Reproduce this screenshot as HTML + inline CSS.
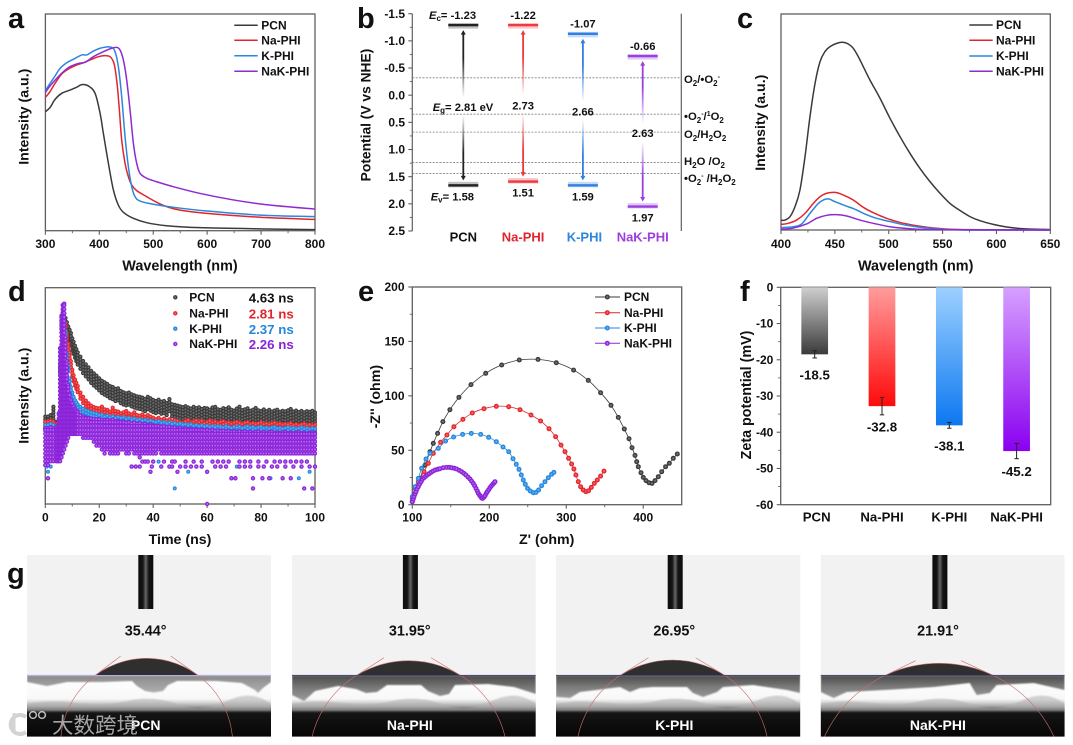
<!DOCTYPE html>
<html lang="en">
<head>
<meta charset="utf-8">
<title>PCN and PHI characterisation figure</title>
<style>
html,body{margin:0;padding:0;background:#fff;width:1073px;height:745px;overflow:hidden}
svg{display:block;font-family:"Liberation Sans","Noto Sans CJK SC",sans-serif;font-weight:bold;fill:#111}
</style>
</head>
<body>
<svg id="fig" xmlns="http://www.w3.org/2000/svg" width="1073" height="745" viewBox="0 0 1073 745">
  <defs id="defs">
    <filter id="soft" x="-5%" y="-5%" width="110%" height="110%"><feGaussianBlur stdDeviation="0.7"/></filter>
  </defs>
  <g id="panel-a"></g>
  <g id="panel-b">
    <text x="684" y="83" font-size="11.3">O<tspan dy="3" font-size="8">2</tspan><tspan dy="-3">/•O</tspan><tspan dy="3" font-size="8">2</tspan><tspan dy="-7" font-size="7">-</tspan></text>
    <text x="684" y="120" font-size="11.3">•O<tspan dy="3" font-size="8">2</tspan><tspan dy="-7" font-size="7">-</tspan><tspan dy="4">/</tspan><tspan dy="-4" font-size="7">1</tspan><tspan dy="4">O</tspan><tspan dy="3" font-size="8">2</tspan></text>
    <text x="684" y="138" font-size="11.3">O<tspan dy="3" font-size="8">2</tspan><tspan dy="-3">/H</tspan><tspan dy="3" font-size="8">2</tspan><tspan dy="-3">O</tspan><tspan dy="3" font-size="8">2</tspan></text>
    <text x="684" y="165" font-size="11.3">H<tspan dy="3" font-size="8">2</tspan><tspan dy="-3">O /O</tspan><tspan dy="3" font-size="8">2</tspan></text>
    <text x="684" y="182" font-size="11.3">•O<tspan dy="3" font-size="8">2</tspan><tspan dy="-7" font-size="7">-</tspan><tspan dy="4"> /H</tspan><tspan dy="3" font-size="8">2</tspan><tspan dy="-3">O</tspan><tspan dy="3" font-size="8">2</tspan></text>
  </g>
  <g id="panel-c"></g>
  <g id="panel-d"></g>
  <g id="panel-e"></g>
  <g id="panel-f"></g>
  <g id="panel-g"></g>
  <g font-size="29" style="fill:#111">
    <text x="8" y="28">a</text>
    <text x="357" y="28">b</text>
    <text x="737" y="28">c</text>
    <text x="8" y="301">d</text>
    <text x="358" y="301">e</text>
    <text x="740" y="301">f</text>
    <text x="7" y="583">g</text>
  </g>
  <g opacity="0.9">
    <path d="M26 717 A9.5 9.5 0 1 0 26 732" fill="none" stroke="#cfcfcf" stroke-width="4"/>
    <path d="M14 713 V733" fill="none" stroke="#cfcfcf" stroke-width="3"/>
    <circle cx="33" cy="715" r="3.4" fill="none" stroke="#cfcfcf" stroke-width="1.5"/>
    <circle cx="42" cy="715" r="3.4" fill="none" stroke="#cfcfcf" stroke-width="1.5"/>
    <text x="52" y="733" font-size="21.5" font-weight="normal" style="fill:#b5b5b5;font-family:'Liberation Sans','Noto Sans CJK SC',sans-serif">大数跨境</text>
  </g>
</svg>
<script>
/* ---------- shared labels ---------- */
const materials = ['PCN', 'Na-PHI', 'K-PHI', 'NaK-PHI'];
const lineColors = ['#3a3a3a', '#e0262c', '#2b86dc', '#8e2bd0'];

/* ---------- panel a: absorbance ---------- */
const aTicks = [300, 400, 500, 600, 700, 800];
const aMinorTicks = [350, 450, 550, 650, 750];
const aPcnX = [300,308.7,317.9,330.3,345.7,358.1,367.4,379.7,392.1,401.4,407.5,416.8,426.1,435.3,444.6,463.2,487.9,525,586.8,710.4,800];
const aPcnY = [54.9,56.9,60.6,63.4,64.9,66.2,67.4,66.8,63.4,54.2,44.9,31.1,18.8,11.8,8.5,5.7,3.7,2.3,1.4,0.8,0.5];
const aNaX = [300,308.7,317.9,330.3,342.6,358.1,370.5,385.9,398.3,410.6,419.9,426.1,429.2,433.5,437.2,441.5,447.7,453.9,460.1,469.3,487.9,506.4,525,549.7,599.1,698,800];
const aNaY = [61.5,64.2,68,72.3,74.6,76.5,77.5,79.1,80.3,80.8,80.3,78,74.9,66.5,55.7,41.8,31.1,24.9,21.1,18.5,15.7,13.1,11.1,9.5,8,6.2,5.2];
const aKX = [300,308.7,317.9,327.2,339.6,351.9,367.4,376.6,389,401.4,413.7,423,429.2,435.3,441.5,447.7,453.9,460.1,466.2,475.5,500.2,537.3,599.1,698,800];
const aKY = [64.6,68,71.4,74.9,77.5,79.1,81.1,81.1,82.9,84.2,84.8,84.6,82.6,75.7,61.8,43.4,29.5,20.3,15.7,13.7,12.2,10.8,9.1,7.2,6.5];
const aNaKX = [300,308.7,321,333.4,345.7,361.2,373.5,389,407.5,423,432.3,438.4,444.6,450.8,457,463.2,469.3,475.5,487.9,506.4,537.3,586.8,648.6,710.4,800];
const aNaKY = [63.8,66.8,70.3,73.4,75.7,77.2,77.7,80.3,82.6,84.2,84.6,83.4,78.8,69.5,55.7,40.3,31.1,26.5,24.2,22.6,20.3,17.2,14.2,12,10];

/* ---------- panel b: band diagram ---------- */
const bTicks = [-1.5, -1, -0.5, 0, 0.5, 1, 1.5, 2, 2.5];
const bMinorTicks = [-1.25, -0.75, -0.25, 0.25, 0.75, 1.25, 1.75, 2.25];
const bConduction = [-1.29, -1.29, -1.13, -0.72];
const bValence = [1.66, 1.59, 1.66, 2.05];
const bConductionLabels = ['-1.23', '-1.22', '-1.07', '-0.66'];
const bValenceLabels = ['1.58', '1.51', '1.59', '1.97'];
const bGapLabels = ['2.81 eV', '2.73', '2.66', '2.63'];
const bRedoxLevels = [-0.32, 0.35, 0.68, 1.24, 1.44];

/* ---------- panel c: emission ---------- */
const cTicks = [400, 450, 500, 550, 600, 650];
const cMinorTicks = [425, 475, 525, 575, 625];
const cPcnX = [400,403.7,408.4,413,417.6,422.3,426.9,431.6,436.2,440.8,445.5,451.7,457.2,462.5,467.1,471.8,476.4,482.6,491.9,501.2,510.5,519.7,529,538.3,547.6,556.9,566.2,575.4,584.7,597.1,609.5,625,650];
const cPcnY = [4.5,4.6,6.2,10.8,18.5,34,52.5,67.9,77.9,82.6,84.9,86.4,86.9,86.1,84.1,80.2,75.6,69.4,61,51.7,43.2,35.5,28.5,22.4,17,12.3,9,6.2,4.3,2.6,1.4,0.6,0.2];
const cNaX = [400,406.8,414.5,422.3,430,436.2,442.4,450.1,457.9,467.1,476.4,485.7,498,510.5,526,544.5,569.3,650];
const cNaY = [2.6,3.1,4.6,7.7,12.3,15.4,17,17.4,16.2,13.9,10.5,8,5.4,3.5,2,0.8,0.2,0];
const cKX = [400,411.4,419.2,426.9,434.6,439.3,444.2,450.1,459.4,468.7,478,488.8,501.2,516.6,538.3,569.3,650];
const cKY = [1.1,1.5,2.8,7.7,12.3,13.9,14.4,13.1,11.3,9.6,7.4,5.4,3.9,2.2,0.8,0,0];
const cNaKX = [400,411.4,423.8,433.1,442.4,451.1,461,473.3,485.7,501.2,519.7,544.5,650];
const cNaKY = [0.3,0.9,2.8,5.4,6.8,7.1,6.5,4.6,3.1,1.5,0.6,0.2,0];

/* ---------- panel d: fluorescence decay ---------- */
const dTicks = [0, 20, 40, 60, 80, 100];
const dMinorTicks = [10, 30, 50, 70, 90];
const dLifetimes = ['4.63 ns', '2.81 ns', '2.37 ns', '2.26 ns'];
const dTime = [0,1,2,3,4,4.5,5,5.5,6,6.5,7,7.5,8,8.5,9,9.5,10,10.5,11,11.5,12,13,14,15,16,17,18,19,20,21,22,23,24,25,26,27,28,29,30,31,32,33,34,35,36,37,38,39,40,41,42,43,44,45,46,47,48,49,50,51,52,53,54,55,56,57,58,59,60,61,62,63,64,65,66,67,68,69,70,71,72,73,74,75,76,77,78,79,80,81,82,83,84,85,86,87,88,89,90,91,92,93,94,95,96,97,98,99,100];
const dPcn = [40.4,40.4,41.1,45,38,38,38,65,85,90,88,86,84,82,80.5,79,76.6,75,73.2,71.6,70.1,
 68.1,66.1,64.6,63.2,61.6,60.4,59.3,58.1,56.9,56.2,55.5,54.5,54.1,53.2,53.5,52.2,51.6,51.2,51.5,50.7,50.2,49.8,49.5,49.2,48.5,49.5,48.8,48.1,47.6,48.2,47.3,47.6,46.7,48.5,46.1,45.8,45.5,45.1,
 44.8,45.2,44.6,44.1,44.9,44.3,44.7,43.9,44.4,44.2,43.6,44.6,44.9,43.8,43.5,44.3,43.9,44.7,43.6,43.2,44.1,45,43.4,43.8,44.2,43.1,43.6,44.4,43.3,43,43.7,42.9,43.5,42.7,43.2,43.6,42.6,43.1,42.8,43.3,43.9,42.7,43.2,42.5,43,42.4,42.9,42.6,43.1,42.3];
const dNa = [38,38,38.5,38,37,37,38,65,85,90,85,83,79,74,70,66,62,59.5,57.5,56,54.5,
 51.5,49.5,47.8,46.5,45.5,44.8,44.4,44.2,45,43.8,43.5,42.7,44.5,43,42.7,41.9,42.4,43,41.9,41.4,42.4,41.1,40.8,41.4,40.4,41.1,40.4,39.9,
 39.2,39.8,38.9,39.5,38.6,39.1,38.2,38.8,38.4,37.9,37.5,38.3,38.8,37.6,38.1,38.6,37.8,38.4,37.3,37.9,38.5,37.7,38.1,37.4,37.9,38.3,37.2,37.7,37.1,37.6,38,37.4,36.9,37.5,37.8,37,37.4,36.8,37.3,37.7,36.9,37.2,36.7,37.2,37.6,36.8,37.1,36.6,37,36.7,37.3,36.5,36.9,36.4,36.8,37.1,36.3,36.7,36.2,36.6];
const dK = [36.5,36.5,37,36.5,36,36,38,65,85,90,84,80,70,64,58,54,51.5,49.5,48,47,46,
 45,44,43.3,42.8,42.3,42,41.7,41.1,41.3,40.4,40.8,39.9,40.5,39.6,40.2,39.7,40,39.3,39.8,38.9,39.5,38.7,39.2,38.5,38.9,38.2,38.6,38.1,
 37.8,38.3,37.5,37.9,37.2,37.7,37,37.4,36.9,37.2,36.6,36.9,36.3,36.8,36.1,36.5,35.9,36.4,35.8,36.2,35.6,36,35.4,36,35.7,35.3,35.9,35.5,35.1,35.7,35.3,35.8,35,35.4,35.9,35.2,35.6,34.9,35.4,35.7,35,35.3,34.8,35.3,35.6,34.9,35.2,34.7,35.1,35.5,34.8,35.2,34.6,35,35.4,34.7,35.1,34.5,35,34.8];
const dNaK = [35,35,35.5,35,35,36,42,72,87,92,92.6,77,66,55,51,48,46.5,45,44,43,42.5,
 41,40.5,40,39.8,39.5,39.3,39.2,39.2,38.9,38.7,38.9,38.6,38.9,38.2,38.5,37.9,38.1,37.6,37.9,37.3,37.6,37,37.3,36.8,37,36.5,36.7,36.3,
 36,36.2,35.7,35.9,35.4,35.7,35.2,35.4,34.9,35.2,34.7,35,34.5,34.8,34.3,34.6,34.2,34.5,34,34.3,33.9,34.2,33.7,34,33.6,33.9,33.5,33.8,33.4,33.7,33.3,33.6,33.2,33.5,33.1,33.4,33,33.3,33.5,33,33.2,32.9,33.2,33.4,32.9,33.1,32.8,33.1,33.3,32.8,33,32.7,33,33.2,32.7,32.9,32.6,32.9,33.1,32.8];
const dNaKLow = [17,18,19.5,19,19,19,19,19,20,22,24,26,28,30,31,31,31,31,31,31,31,
 31,30.5,30,29.5,29,28,26.5,25.7,24.2,23.4,23.6,22.7,22.9,21.9,22.4,23.5,24.1,23,22.6,23.8,22.5,23.1,21.6,22.2,
 21.7,21.7,22.4,21.7,21.7,23.5,21.7,21.7,21.7,22.4,21.7,21.7,21.7,23.3,21.7,21.7,21.7,22.5,21.7,21.7,21.7,21.7,21.7,23,21.7,21.7,21.7,21.7,22.4,21.7,21.7,21.7,21.7,21.7,23,21.7,21.7,21.7,21.7,21.7,22.4,21.7,21.7,21.7,21.7,21.7,21.7,23,21.7,21.7,21.7,21.7,21.7,21.7,22.4,21.7,21.7,21.7,21.7,21.7,21.7,21.7,21.7,21.7];
const dSpread = [6, 4, 4];
const dKOutlierT = [0.5,1,2,42,48,53,71,83.5,94,98];
const dKOutlierV = [17.3,14.9,17.3,19.6,7.2,14.9,17.3,11.9,11.9,14.9];
const dNaKOutlierT = [1,32,33.5,35,39.5,39,46,49,60,69,70.5,77,77,80.5,83,88,91,96,99,60,36,37,38,40,44,47,48,52,55,58,62,64,66,68,72,74,76,79,82,85,87,89,91,93,95,97,43,47,50,52,54,56,58,63,65,67,72,74,76,79,81,84,86,89,92,95,98,100];
const dNaKOutlierV = [11.9,17.3,17.3,17.3,17.3,14.9,17.3,14.9,14.9,11.9,11.9,11.9,7.2,11.9,11.9,11.9,11.9,7.2,7.2,0,19.6,19.6,19.6,19.6,19.6,19.6,19.6,19.6,19.6,19.6,19.6,19.6,19.6,19.6,19.6,19.6,19.6,19.6,19.6,19.6,19.6,19.6,19.6,19.6,19.6,19.6,17.3,17.3,17.3,17.3,17.3,17.3,17.3,17.3,17.3,17.3,17.3,17.3,17.3,17.3,17.3,17.3,17.3,17.3,17.3,17.3,17.3,17.3];

/* ---------- panel e: Nyquist ---------- */
const eXTicks = [100, 200, 300, 400];
const eXMinorTicks = [150, 250, 350];
const eYTicks = [0, 50, 100, 150, 200];
const eYMinorTicks = [25, 75, 125, 175];
const ePcnX = [100,102.2,105.6,110,116.5,123,127.3,132.9,139.8,148.9,160.6,176.2,195.3,216.1,239,263.3,287.1,309.6,328.7,344.7,358.1,367.6,375.4,381.5,385.4,389.3,391.5,393.6,397.1,400.1,403.6,407.5,411.4,415.3,419.6,424,429.1,433.9,439.1,444.3];
const ePcnY = [2.8,8.9,15,24.2,36.4,48.7,56.4,65.5,76.3,87.3,98.6,110.3,120.7,128.3,132.9,133.5,130.5,123.7,114.2,102.9,91.3,80.2,69.5,60.6,52.4,45.3,39.5,34.9,29.4,25.1,22.1,20.2,19.6,22.1,25.7,30.3,34.9,38,42.6,46.6];
const eNaX = [100,103.5,107.8,115.2,120.8,127.3,136.8,145,154.1,165.8,178,193.1,209.1,225.2,239.9,254.2,266.7,277.6,286.2,293.2,298.4,303.1,307,310,312.6,315.7,318.7,322.2,325.6,329.1,332.6,336.5,340.4,344.7,349];
const eNaY = [5.8,15,21.1,30.3,38,47.2,57.3,64,71.7,78.4,84.2,88.2,90.4,90,87.3,82.4,76.9,69.8,62.5,54.8,48.7,42.6,37.4,32.8,27.3,21.1,16.5,13.5,11.9,12.9,15.9,19.6,22.7,26.3,30.9];
const eKX = [100,103.5,107.8,112.1,117.8,123,133.8,143.3,153.7,165.4,176.7,188.8,199.2,209.1,217.8,225.2,230.8,235.1,238.6,241.6,244.2,246.8,249.8,253.3,257.2,260.7,264.1,268,272.4,276.7,281,284];
const eKY = [7.4,16.5,24.2,33.4,42,47.2,51.8,58.5,62.2,64.6,65.5,64.6,61.9,57.9,53,48.7,42.3,37.1,32.5,27.3,22.7,18.7,15,12.6,11,11.3,13.5,17.5,21.1,24.8,27.9,29.7];
const eNaKX = [100,101.3,102.2,103.5,104.8,106.1,107.8,109.5,111.3,113,115.2,117.3,119.5,121.7,124.3,126.9,129.9,133,135.9,140.3,144.6,148.1,151.1,154.6,157.6,161.1,164.1,167.1,169.7,172.3,174.9,177.1,179.3,181,182.7,184.5,185.8,187.5,188.8,190.1,191.4,193.1,194.4,196.1,197.4,199.2,200.9,202.6,204.4,206.1,207.4];
const eNaKY = [2.8,5.2,7.4,9.8,11.9,14.4,16.5,19,21.1,23.3,24.8,26,27.3,28.5,29.7,30.9,31.9,32.5,33.1,34,34.3,34.3,34,33.4,32.8,31.5,30.3,28.8,27.3,25.4,23.6,21.7,19.6,17.5,15,12.6,10.4,8.6,7.4,6.1,5.8,7,8.3,10.4,11.9,13.8,15.6,17.2,18.7,19.9,21.1];

/* ---------- panel f: zeta potential ---------- */
const fTicks = [0, -10, -20, -30, -40, -50, -60];
const fMinorTicks = [-5, -15, -25, -35, -45, -55];
const fValues = [-18.5, -32.8, -38.1, -45.2];
const fErrors = [1, 2.4, 0.8, 2.1];
const fValueLabels = ['-18.5', '-32.8', '-38.1', '-45.2'];
const fTopColors = ['#cfcfcf', '#ff9c9c', '#9dd0ff', '#d6a0ff'];
const fBottomColors = ['#3a3a3a', '#ff0a0a', '#0c78f0', '#8a00f0'];

/* ---------- panel g: contact angle ---------- */
const gAngles = ['35.44°', '31.95°', '26.95°', '21.91°'];

/* ---------- helpers ---------- */
const NS = 'http://www.w3.org/2000/svg';
function add(parent, tag, attrs, name) {
  const el = document.createElementNS(NS, tag);
  for (const k in attrs) el.setAttribute(k, attrs[k]);
  
  
  parent.appendChild(el);
  return el;
}
function label(parent, x, cy, str, size, name, anchor, color) {
  const el = add(parent, 'text', {x: x, y: cy + size * 0.35, 'font-size': size, 'text-anchor': anchor || 'middle', style: 'fill:' + (color || '#111')}, name);
  el.textContent = str;
  return el;
}
function vLabel(parent, cx, cy, str, size, name) {
  const el = add(parent, 'text', {x: 0, y: 0, 'font-size': size, 'text-anchor': 'middle', transform: 'translate(' + (cx + size * 0.35) + ' ' + cy + ') rotate(-90)'}, name);
  el.textContent = str;
  return el;
}
function scale(d0, d1, r0, r1) { return v => r0 + (v - d0) * (r1 - r0) / (d1 - d0); }
function smooth(xs, ys) {
  const p = xs.map((x, i) => [x, ys[i]]);
  let d = 'M' + p[0][0].toFixed(2) + ' ' + p[0][1].toFixed(2);
  for (let i = 0; i < p.length - 1; i++) {
    const a = p[Math.max(i - 1, 0)], b = p[i], c = p[i + 1], e = p[Math.min(i + 2, p.length - 1)];
    d += 'C' + (b[0] + (c[0] - a[0]) / 6).toFixed(2) + ' ' + (b[1] + (c[1] - a[1]) / 6).toFixed(2) + ' ' +
         (c[0] - (e[0] - b[0]) / 6).toFixed(2) + ' ' + (c[1] - (e[1] - b[1]) / 6).toFixed(2) + ' ' +
         c[0].toFixed(2) + ' ' + c[1].toFixed(2);
  }
  return d;
}
const axisColor = '#5f5f5f';
function frame(g, x0, y0, x1, y1) {
  add(g, 'rect', {x: x0, y: y0, width: x1 - x0, height: y1 - y0, fill: 'none', stroke: axisColor, 'stroke-width': 1.3}, 'plot-frame');
}
function xAxis(g, sx, ticks, minor, y, labelY) {
  ticks.forEach(t => {
    add(g, 'line', {x1: sx(t), x2: sx(t), y1: y, y2: y + 4, stroke: axisColor, 'stroke-width': 1.1}, 'x-tick');
    label(g, sx(t), labelY, String(t), 12, 'x-tick-label');
  });
  minor.forEach(t => {
    add(g, 'line', {x1: sx(t), x2: sx(t), y1: y, y2: y + 2.5, stroke: axisColor, 'stroke-width': 0.9}, 'x-minor-tick');
  });
}
function yAxis(g, sy, ticks, minor, x, labelX, fmt) {
  ticks.forEach(t => {
    add(g, 'line', {x1: x - 4, x2: x, y1: sy(t), y2: sy(t), stroke: axisColor, 'stroke-width': 1.1}, 'y-tick');
    label(g, labelX, sy(t), fmt ? fmt(t) : String(t), 12, 'y-tick-label', 'end');
  });
  minor.forEach(t => {
    add(g, 'line', {x1: x - 2.5, x2: x, y1: sy(t), y2: sy(t), stroke: axisColor, 'stroke-width': 0.9}, 'y-minor-tick');
  });
}
const defs = document.getElementById('defs');
function vGrad(id, stops, horizontal) {
  const gr = add(defs, 'linearGradient', {id: id, x1: 0, y1: 0, x2: horizontal ? 1 : 0, y2: horizontal ? 0 : 1}, 'gradient');
  stops.forEach(s => add(gr, 'stop', {offset: s[0], 'stop-color': s[1], 'stop-opacity': s[2] === undefined ? 1 : s[2]}, 'gradient-stop'));
}
const ballLight = ['#8c8c8c', '#ff7d7d', '#7fc2ff', '#cf8dff'];
const ballCore = ['#3a3a3a', '#e3262c', '#2487dc', '#8a22d8'];
ballCore.forEach((c, i) => {
  const gr = add(defs, 'radialGradient', {id: 'ball' + i, cx: 0.5, cy: 0.5, r: 0.5}, 'ball-gradient');
  add(gr, 'stop', {offset: 0, 'stop-color': ballLight[i]}, 'gradient-stop');
  add(gr, 'stop', {offset: 0.65, 'stop-color': c}, 'gradient-stop');
  add(gr, 'stop', {offset: 1, 'stop-color': c}, 'gradient-stop');
});
function lineLegend(g, x0, x1, textX, ys) {
  materials.forEach((m, i) => {
    add(g, 'line', {x1: x0, x2: x1, y1: ys[i], y2: ys[i], stroke: lineColors[i], 'stroke-width': 1.5}, 'legend-line-' + m.toLowerCase());
    label(g, textX, ys[i], m, 12, 'legend-label-' + m.toLowerCase(), 'start');
  });
}

/* ---------- panel a ---------- */
(function () {
  const g = document.getElementById('panel-a');
  const sx = scale(300, 800, 45.4, 315), sy = scale(0, 100, 230.7, 14);
  frame(g, 45.4, 14, 315, 230.7);
  xAxis(g, sx, aTicks, aMinorTicks, 230.7, 244);
  const sets = [[aPcnX, aPcnY], [aNaX, aNaY], [aKX, aKY], [aNaKX, aNaKY]];
  sets.forEach((s, i) => {
    add(g, 'path', {d: smooth(s[0].map(sx), s[1].map(sy)), fill: 'none', stroke: lineColors[i], 'stroke-width': 1.5, 'stroke-linejoin': 'round'}, 'series-' + materials[i].toLowerCase());
  });
  lineLegend(g, 234.3, 257.7, 261.3, [25.3, 40.3, 55.7, 71.3]);
  label(g, 180, 265.7, 'Wavelength (nm)', 14.4, 'x-axis-title');
  vLabel(g, 23.3, 116.7, 'Intensity (a.u.)', 14.2, 'y-axis-title');
})();

/* ---------- panel b ---------- */
(function () {
  const g = document.getElementById('panel-b');
  const sy = scale(-1.5, 2.5, 13.7, 231);
  const cx = i => 463.3 + 59.8 * i;
  add(g, 'line', {x1: 412.3, x2: 412.3, y1: 13.7, y2: 231, stroke: axisColor, 'stroke-width': 1.2}, 'y-axis-line');
  add(g, 'line', {x1: 681.3, x2: 681.3, y1: 13.7, y2: 231, stroke: axisColor, 'stroke-width': 1.2}, 'right-divider');
  yAxis(g, sy, bTicks, bMinorTicks, 412.3, 405, t => t.toFixed(1));
  bRedoxLevels.forEach(v => {
    add(g, 'line', {x1: 412.3, x2: 681, y1: sy(v), y2: sy(v), stroke: '#808080', 'stroke-width': 0.8, 'stroke-dasharray': '2 1.4'}, 'redox-level');
  });
  const colors = ['#222222', '#ee3a3f', '#2f80e0', '#9a3fe0'];
  materials.forEach((m, i) => {
    const x = cx(i), top = sy(bConduction[i]), bot = sy(bValence[i]);
    const mid = (top + bot) / 2 + 2;
    const idU = 'arrowUp' + i, idD = 'arrowDown' + i;
    vGrad(idU, [[0, colors[i]], [0.4, colors[i]], [1, colors[i], 0]]);
    vGrad(idD, [[0, colors[i], 0], [0.6, colors[i]], [1, colors[i]]]);
    /* fuzzy halo + core level bars */
    add(g, 'rect', {x: x - 15, y: top - 2, width: 30, height: 5.5, fill: colors[i], opacity: 0.28}, 'conduction-band-halo-' + m.toLowerCase());
    add(g, 'rect', {x: x - 15, y: top - 1.2, width: 30, height: 2.4, fill: colors[i]}, 'conduction-band-' + m.toLowerCase());
    add(g, 'rect', {x: x - 15, y: bot - 3.5, width: 30, height: 5.5, fill: colors[i], opacity: 0.28}, 'valence-band-halo-' + m.toLowerCase());
    add(g, 'rect', {x: x - 15, y: bot - 1.2, width: 30, height: 2.4, fill: colors[i]}, 'valence-band-' + m.toLowerCase());
    /* arrow with fade around gap label */
    add(g, 'rect', {x: x - 0.9, y: top + 7, width: 1.8, height: Math.max(mid - 10 - top - 7, 1), fill: 'url(#' + idU + ')'}, 'gap-arrow-upper-' + m.toLowerCase());
    add(g, 'rect', {x: x - 0.9, y: mid + 8, width: 1.8, height: Math.max(bot - 7 - mid - 8, 1), fill: 'url(#' + idD + ')'}, 'gap-arrow-lower-' + m.toLowerCase());
    add(g, 'path', {d: 'M' + x + ' ' + (top + 5) + 'l-2.5 4.5h5z', fill: colors[i]}, 'gap-arrow-head-top');
    add(g, 'path', {d: 'M' + x + ' ' + (bot - 5) + 'l-2.5 -4.5h5z', fill: colors[i]}, 'gap-arrow-head-bottom');
    /* printed values */
    if (i === 0) {
      const ec = label(g, 429, top - 10, '', 11.2, 'conduction-value-pcn', 'start');
      ec.innerHTML = '<tspan font-style="italic">E</tspan><tspan dy="2" font-size="8">c</tspan><tspan dy="-2">= ' + bConductionLabels[i] + '</tspan>';
      const ev = label(g, 430.7, bot + 11, '', 11.2, 'valence-value-pcn', 'start');
      ev.innerHTML = '<tspan font-style="italic">E</tspan><tspan dy="2" font-size="8">v</tspan><tspan dy="-2">= ' + bValenceLabels[i] + '</tspan>';
      const eg = label(g, 432.7, mid, '', 11.2, 'gap-value-pcn', 'start');
      eg.innerHTML = '<tspan font-style="italic">E</tspan><tspan dy="2" font-size="8">g</tspan><tspan dy="-2">= ' + bGapLabels[i] + '</tspan>';
    } else {
      label(g, x, top - 10, bConductionLabels[i], 11.2, 'conduction-value-' + m.toLowerCase());
      label(g, x, bot + 11, bValenceLabels[i], 11.2, 'valence-value-' + m.toLowerCase());
      label(g, x, mid, bGapLabels[i], 11.2, 'gap-value-' + m.toLowerCase());
    }
    label(g, x + (i === 2 ? 1.5 : 0), 237, m, 13, 'category-label-' + m.toLowerCase(), 'middle', ['#111', '#e0262c', '#2b86dc', '#9c3fe0'][i]);
  });
  vLabel(g, 365.7, 115, 'Potential (V vs NHE)', 13.8, 'y-axis-title');
})();

/* ---------- panel c ---------- */
(function () {
  const g = document.getElementById('panel-c');
  const sx = scale(400, 650, 781, 1050.3), sy = scale(0, 100, 230, 14);
  frame(g, 781, 14, 1050.3, 230);
  xAxis(g, sx, cTicks, cMinorTicks, 230, 244);
  const sets = [[cPcnX, cPcnY], [cNaX, cNaY], [cKX, cKY], [cNaKX, cNaKY]];
  sets.forEach((s, i) => {
    add(g, 'path', {d: smooth(s[0].map(sx), s[1].map(sy)), fill: 'none', stroke: lineColors[i], 'stroke-width': 1.5, 'stroke-linejoin': 'round'}, 'series-' + materials[i].toLowerCase());
  });
  lineLegend(g, 969.3, 992.7, 996, [25, 40.3, 56, 71.3]);
  label(g, 915.7, 265.7, 'Wavelength (nm)', 14.4, 'x-axis-title');
  vLabel(g, 760, 122.7, 'Intensity (a.u.)', 14.2, 'y-axis-title');
})();

/* ---------- panel d ---------- */
(function () {
  const g = document.getElementById('panel-d');
  const sx = scale(0, 100, 45.3, 315), sy = scale(0, 100, 504, 287.7);
  frame(g, 45.3, 287.7, 315, 504);
  xAxis(g, sx, dTicks, dMinorTicks, 504, 517.3);
  const clipId = 'dClip';
  const cp = add(defs, 'clipPath', {id: clipId}, 'decay-clip');
  add(cp, 'rect', {x: 43, y: 287.7, width: 274, height: 219}, 'decay-clip-rect');
  const plot = add(g, 'g', {'clip-path': 'url(#' + clipId + ')'}, 'decay-points');
  const tops = [dPcn, dNa, dK];
  tops.forEach((arr, s) => {
    const sg = add(plot, 'g', {fill: ballCore[s]}, 'series-' + materials[s].toLowerCase());
    arr.forEach((v, i) => {
      for (let dv = 0; dv <= dSpread[s]; dv += 1.4) {
        add(sg, 'circle', {cx: sx(dTime[i]).toFixed(1), cy: sy(v - dv).toFixed(1), r: 2.1, fill: 'url(#ball' + s + ')'}, 'decay-point');
      }
    });
  });
  const kOut = add(plot, 'g', {}, 'k-phi-outliers');
  dKOutlierT.forEach((t, i) => {
    add(kOut, 'circle', {cx: sx(t), cy: sy(dKOutlierV[i]), r: 2, fill: 'url(#ball2)'}, 'decay-point-outlier');
  });
  const nk = add(plot, 'g', {}, 'series-nak-phi');
  dNaK.forEach((v, i) => {
    const low = dNaKLow[i] === undefined ? 21.7 : dNaKLow[i];
    add(nk, 'circle', {cx: sx(dTime[i]).toFixed(1), cy: sy(v).toFixed(1), r: 2.2, fill: 'url(#ball3)'}, 'decay-point');
    for (let lv = Math.floor(v / 1.8) * 1.8; lv >= low; lv -= 1.8) {
      add(nk, 'circle', {cx: sx(dTime[i]).toFixed(1), cy: sy(lv).toFixed(1), r: 2.2, fill: 'url(#ball3)'}, 'decay-point');
    }
  });
  dNaKOutlierT.forEach((t, i) => {
    add(nk, 'circle', {cx: sx(t), cy: sy(dNaKOutlierV[i]), r: 2.2, fill: 'url(#ball3)'}, 'decay-point-outlier');
  });
  const ys = [297.3, 313.3, 328.7, 344];
  const vc = ['#111', '#e0262c', '#2487dc', '#8a22d8'];
  materials.forEach((m, i) => {
    add(g, 'circle', {cx: 175.3, cy: ys[i], r: 2.2, fill: 'url(#ball' + i + ')'}, 'legend-marker-' + m.toLowerCase());
    label(g, 189.3, ys[i], m, 12, 'legend-label-' + m.toLowerCase(), 'start');
    label(g, 248.7, ys[i] + 0.5, dLifetimes[i], 13.3, 'lifetime-' + m.toLowerCase(), 'start', vc[i]);
  });
  label(g, 180, 539, 'Time (ns)', 14.2, 'x-axis-title');
  vLabel(g, 23.3, 395.7, 'Intensity (a.u.)', 14.2, 'y-axis-title');
})();

/* ---------- panel e ---------- */
(function () {
  const g = document.getElementById('panel-e');
  const sx = scale(100, 450, 412.3, 681.7), sy = scale(0, 200, 504.7, 287);
  frame(g, 412.3, 287, 681.7, 504.7);
  xAxis(g, sx, eXTicks, eXMinorTicks, 504.7, 517.3);
  yAxis(g, sy, eYTicks, eYMinorTicks, 412.3, 404.5);
  const sets = [[ePcnX, ePcnY], [eNaX, eNaY], [eKX, eKY], [eNaKX, eNaKY]];
  sets.forEach((s, i) => {
    const sg = add(g, 'g', {}, 'series-' + materials[i].toLowerCase());
    add(sg, 'path', {d: smooth(s[0].map(sx), s[1].map(sy)), fill: 'none', stroke: lineColors[i], 'stroke-width': 0.8}, 'series-line');
    s[0].forEach((x, j) => {
      add(sg, 'circle', {cx: sx(x).toFixed(1), cy: sy(s[1][j]).toFixed(1), r: 2.5, fill: 'url(#ball' + i + ')'}, 'series-point');
    });
  });
  const ys = [297, 312.7, 328, 343.3];
  materials.forEach((m, i) => {
    add(g, 'line', {x1: 595, x2: 620, y1: ys[i], y2: ys[i], stroke: lineColors[i], 'stroke-width': 1}, 'legend-line-' + m.toLowerCase());
    add(g, 'circle', {cx: 607.3, cy: ys[i], r: 2.5, fill: 'url(#ball' + i + ')'}, 'legend-marker-' + m.toLowerCase());
    label(g, 624, ys[i], m, 12, 'legend-label-' + m.toLowerCase(), 'start');
  });
  label(g, 546.7, 539, "Z' (ohm)", 14.2, 'x-axis-title');
  vLabel(g, 375, 396.7, "-Z'' (ohm)", 14.2, 'y-axis-title');
})();

/* ---------- panel f ---------- */
(function () {
  const g = document.getElementById('panel-f');
  const sy = scale(0, -60, 287.3, 504.7);
  const cx = i => 814.7 + 67.3 * i;
  const bw = 26.7;
  frame(g, 780.7, 287.3, 1050.7, 504.7);
  yAxis(g, sy, fTicks, fMinorTicks, 780.7, 773.3);
  materials.forEach((m, i) => {
    vGrad('barGrad' + i, [[0, fTopColors[i]], [1, fBottomColors[i]]]);
    add(g, 'rect', {x: cx(i) - bw / 2, y: 287.3, width: bw, height: sy(fValues[i]) - 287.3, fill: 'url(#barGrad' + i + ')'}, 'bar-' + m.toLowerCase());
    const hi = sy(fValues[i] + fErrors[i]), lo = sy(fValues[i] - fErrors[i]);
    add(g, 'line', {x1: cx(i), x2: cx(i), y1: hi, y2: lo, stroke: '#222', 'stroke-width': 1}, 'error-bar-' + m.toLowerCase());
    add(g, 'line', {x1: cx(i) - 2.2, x2: cx(i) + 2.2, y1: hi, y2: hi, stroke: '#222', 'stroke-width': 1}, 'error-cap-upper');
    add(g, 'line', {x1: cx(i) - 2.2, x2: cx(i) + 2.2, y1: lo, y2: lo, stroke: '#222', 'stroke-width': 1}, 'error-cap-lower');
    label(g, cx(i), sy(fValues[i]) + 20.5, fValueLabels[i], 13.3, 'bar-value-' + m.toLowerCase());
    label(g, cx(i) + (i === 0 ? 2 : 0), 516.7, m, 13.2, 'category-label-' + m.toLowerCase());
  });
  vLabel(g, 746, 395, 'Zeta potential (mV)', 14.3, 'y-axis-title');
})();

/* ---------- panel g ---------- */
(function () {
  const g = document.getElementById('panel-g');
  vGrad('needleGrad', [[0, '#0c0c0c'], [0.3, '#141414'], [0.5, '#666666'], [0.7, '#141414'], [1, '#0c0c0c']], true);
  vGrad('substrateGrad', [[0, '#ffffff'], [0.38, '#f8f8f8'], [0.43, '#dcdcdc'], [0.5, '#a8a8a8'], [0.56, '#4a4a4a'], [0.62, '#141414'], [1, '#060606']]);
  vGrad('bandGradDark', [[0, '#4a4a4a'], [0.5, '#7a7a7a'], [1, '#9a9a9a']]);
  vGrad('bandGradLight', [[0, '#8a8a8a'], [1, '#b0b0b0']]);
  const photos = [
    {x: 27, w: 244, needle: 111.3, text: 118.7, lab: 118.7, dL: 68, dR: 171.3, top: 103.3, tan: [93.7, 143.7, 101], name: 'PCN', fill: 'url(#bandGradLight)', hz: '#aeaee8',
     band: [[0,127],[20,131],[40,127],[75,127],[105,126],[110,131],[118,136],[127,137.5],[136,136],[141,130],[150,126],[190,126],[215,128],[228,135],[231,138],[236,133],[244,127]]},
    {x: 292, w: 243.8, needle: 110.9, text: 117.8, lab: 117.8, dL: 64.4, dR: 168.7, top: 105.7, tan: [92, 139, 102.7], name: 'Na-PHI', fill: 'url(#bandGradDark)', hz: '#4a4a78',
     band: [[0,140],[12,146],[23,136],[46,131],[64,134],[74,138],[85,137],[95,130],[129,130],[136,136],[148,141],[157,139],[163,130],[196,129],[222,132],[244,139]]},
    {x: 556, w: 244.3, needle: 111.7, text: 118.3, lab: 118.3, dL: 64, dR: 169, top: 105, tan: [92.3, 139.7, 102.7], name: 'K-PHI', fill: 'url(#bandGradDark)', hz: '#4a4a78',
     band: [[0,142],[14,143],[24,137],[64,132],[74,137],[84,133],[97,132],[131,132],[137,138],[147,142],[161,137],[167,132],[197,130],[231,135],[244,138]]},
    {x: 820.7, w: 244, needle: 111.7, text: 117.3, lab: 117.2, dL: 64.3, dR: 172.7, top: 108.3, tan: [95, 140.3, 105.7], name: 'NaK-PHI', fill: 'url(#bandGradDark)', hz: '#4a4a78',
     band: [[0,137],[13,143],[26,137],[63,135],[113,132],[149,128],[156,140],[169,138],[176,130],[213,128],[244,135]]}
  ];
  const H = 181.7, base = 120.5;
  photos.forEach((p, i) => {
    const cpId = 'photoClip' + i;
    const cp = add(defs, 'clipPath', {id: cpId}, 'photo-clip');
    add(cp, 'rect', {x: 0, y: 0, width: p.w, height: H}, 'photo-clip-rect');
    const pg = add(g, 'g', {transform: 'translate(' + p.x + ' 555)', 'clip-path': 'url(#' + cpId + ')'}, 'photo-' + p.name.toLowerCase());
    add(pg, 'rect', {x: 0, y: 0, width: p.w, height: H, fill: '#f2f2f2'}, 'photo-background');
    add(pg, 'rect', {x: 0, y: base, width: p.w, height: H - base, fill: 'url(#substrateGrad)'}, 'photo-substrate');
    const bd = 'M0 ' + base + ' L' + p.w + ' ' + base + ' ' + p.band.slice().reverse().map(q => 'L' + q[0] + ' ' + q[1]).join(' ') + 'Z';
    add(pg, 'path', {d: bd, fill: p.fill, filter: 'url(#soft)'}, 'photo-film-band');
    add(pg, 'path', {d: 'M0 149 Q25 144 50 148 T100 146 T150 149 T200 146 T' + p.w + ' 149 V156 H0Z', fill: '#b0b0b0', opacity: 0.55, filter: 'url(#soft)'}, 'photo-lower-edge');
    const half = (p.dR - p.dL) / 2, hgt = base - p.top;
    const R = (half * half + hgt * hgt) / (2 * hgt);
    const mx = (p.dL + p.dR) / 2;
    const cyc = p.top + R;
    const dxb = Math.sqrt(Math.max(R * R - (cyc - H) * (cyc - H), 0));
    add(pg, 'path', {d: 'M' + p.dL + ' ' + base + ' A' + R + ' ' + R + ' 0 0 1 ' + p.dR + ' ' + base + 'Z', fill: '#2f2f2f'}, 'photo-droplet');
    add(pg, 'path', {d: 'M' + (mx - dxb) + ' ' + H + ' A' + R + ' ' + R + ' 0 ' + (cyc < H ? 1 : 0) + ' 1 ' + (mx + dxb) + ' ' + H, fill: 'none', stroke: '#c9706e', 'stroke-width': 0.6}, 'photo-fit-circle');
    add(pg, 'line', {x1: p.dL, y1: base, x2: p.tan[0], y2: p.tan[2], stroke: '#c9706e', 'stroke-width': 0.6}, 'photo-tangent-left');
    add(pg, 'line', {x1: p.dR, y1: base, x2: p.tan[1], y2: p.tan[2], stroke: '#c9706e', 'stroke-width': 0.6}, 'photo-tangent-right');
    add(pg, 'line', {x1: 0, y1: base, x2: p.w, y2: base, stroke: p.hz, 'stroke-width': 0.9}, 'photo-baseline');
    add(pg, 'rect', {x: p.needle, y: 0, width: 15, height: 54, fill: 'url(#needleGrad)'}, 'photo-needle');
    label(pg, p.text, 75.7, gAngles[i], 14.4, 'contact-angle-value');
    label(pg, p.lab, 170, p.name, 14, 'photo-label', 'middle', '#ffffff');
  });
})();
</script>
</body>
</html>
